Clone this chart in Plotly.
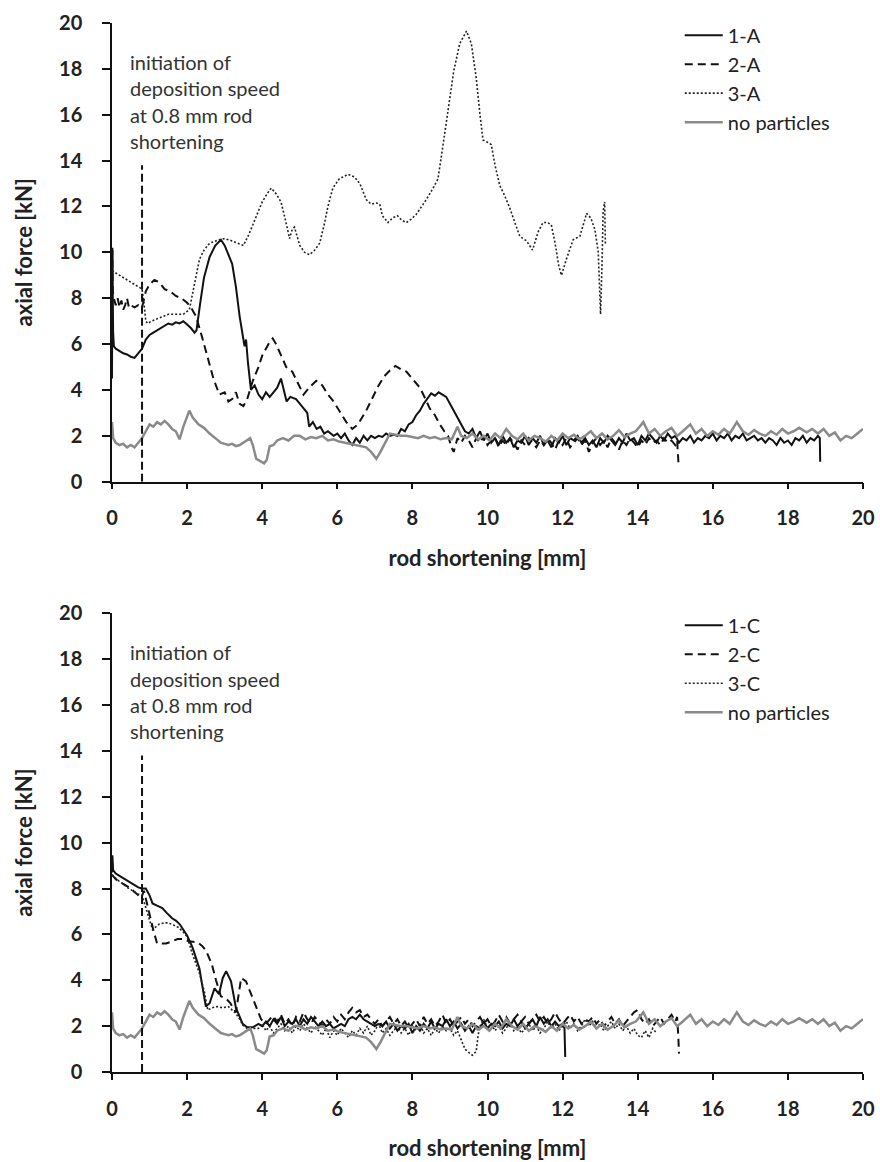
import plotly.graph_objects as go

# ---------------- data ----------------
no_particles = [
    (0, 2.6), (0.03, 1.9), (0.1, 1.7), (0.2, 1.6), (0.3, 1.65), (0.4, 1.5), (0.5, 1.6), (0.6, 1.5), (0.7, 1.7),
    (0.8, 1.9), (0.9, 2.2), (1.0, 2.5), (1.1, 2.4), (1.2, 2.6), (1.3, 2.5), (1.4, 2.65), (1.5, 2.5), (1.6, 2.3),
    (1.7, 2.2), (1.8, 1.85), (1.9, 2.4), (2.0, 2.8), (2.06, 3.1), (2.15, 2.8), (2.3, 2.5), (2.45, 2.35), (2.6, 2.1),
    (2.75, 1.9), (2.9, 1.7), (3.0, 1.65), (3.1, 1.6), (3.2, 1.65), (3.3, 1.55), (3.4, 1.6), (3.5, 1.7), (3.6, 1.8),
    (3.68, 1.9), (3.75, 1.6), (3.84, 1.0), (3.95, 0.9), (4.05, 0.8), (4.12, 0.95), (4.2, 1.55), (4.3, 1.6),
    (4.4, 1.8), (4.55, 1.9), (4.7, 1.8), (4.85, 2.0), (5.0, 2.0), (5.15, 1.85), (5.3, 1.95), (5.44, 1.9),
    (5.6, 2.0), (5.75, 1.8), (5.9, 1.85), (6.05, 1.75), (6.2, 1.7), (6.4, 1.6), (6.6, 1.55), (6.77, 1.5),
    (6.9, 1.3), (7.04, 1.0), (7.15, 1.3), (7.3, 1.8), (7.4, 2.1), (7.55, 2.05), (7.7, 2.0), (7.84, 2.0),
    (8.0, 1.95), (8.15, 1.9), (8.3, 2.0), (8.46, 1.9), (8.6, 1.95), (8.75, 1.85), (8.9, 1.9), (9.05, 1.85),
    (9.2, 2.4), (9.3, 2.0), (9.45, 1.9), (9.6, 2.1), (9.75, 1.85), (9.9, 2.0), (10.05, 1.8), (10.2, 2.1),
    (10.35, 1.9), (10.5, 2.3), (10.65, 2.0), (10.8, 1.85), (10.95, 2.1), (11.1, 1.8), (11.25, 2.0), (11.4, 1.9),
    (11.55, 1.75), (11.7, 2.0), (11.85, 1.8), (12.0, 2.1), (12.15, 1.9), (12.3, 2.05), (12.45, 1.85), (12.6, 2.0),
    (12.75, 2.2), (12.9, 1.9), (13.05, 2.1), (13.2, 1.85), (13.35, 2.0), (13.5, 2.25), (13.65, 1.95), (13.8, 2.1),
    (13.95, 2.2), (14.15, 2.6), (14.3, 2.1), (14.45, 2.3), (14.6, 2.0), (14.75, 2.2), (14.9, 2.35), (15.05, 2.0),
    (15.2, 2.2), (15.4, 2.5), (15.55, 2.1), (15.7, 2.3), (15.85, 2.0), (16.0, 2.2), (16.15, 2.05), (16.3, 2.3),
    (16.45, 2.1), (16.64, 2.6), (16.8, 2.2), (16.95, 2.05), (17.1, 2.25), (17.25, 2.1), (17.4, 2.0), (17.55, 2.2),
    (17.7, 2.05), (17.85, 2.3), (18.0, 2.1), (18.15, 2.2), (18.3, 2.35), (18.5, 2.15), (18.65, 2.3), (18.8, 2.1),
    (18.95, 2.3), (19.1, 2.0), (19.25, 2.15), (19.4, 1.8), (19.55, 2.0), (19.7, 1.9), (19.85, 2.1), (20.0, 2.3),
]

s1A = [
    (0, 4.5), (0.01, 10.1), (0.03, 6.5), (0.05, 5.9), (0.1, 5.8), (0.2, 5.7), (0.3, 5.6), (0.4, 5.55), (0.5, 5.45),
    (0.6, 5.4), (0.7, 5.6), (0.8, 5.8), (0.9, 6.2), (1.0, 6.4), (1.1, 6.5), (1.2, 6.6), (1.3, 6.7), (1.4, 6.8),
    (1.5, 6.9), (1.6, 6.85), (1.7, 6.95), (1.8, 6.9), (1.9, 7.0), (2.0, 6.85), (2.1, 6.7), (2.2, 6.5), (2.25, 6.6),
    (2.35, 7.8), (2.45, 8.9), (2.6, 9.8), (2.75, 10.3), (2.9, 10.55), (3.0, 10.3), (3.1, 9.9), (3.2, 9.5),
    (3.3, 8.5), (3.4, 7.2), (3.49, 6.3), (3.53, 5.9), (3.57, 6.2), (3.62, 5.2), (3.7, 4.0), (3.8, 4.2), (3.9, 3.8),
    (4.0, 3.6), (4.1, 3.9), (4.2, 3.7), (4.3, 3.9), (4.4, 4.1), (4.5, 4.5), (4.58, 4.0), (4.65, 3.5), (4.75, 3.7),
    (4.9, 3.6), (5.0, 3.4), (5.1, 3.2), (5.2, 3.0), (5.25, 2.4), (5.35, 2.6), (5.45, 2.3), (5.55, 2.4), (5.65, 2.1),
    (5.75, 2.2), (5.9, 2.0), (6.0, 2.1), (6.1, 1.9), (6.2, 2.1), (6.3, 1.8), (6.4, 1.6), (6.5, 1.9), (6.6, 1.7),
    (6.7, 2.0), (6.8, 1.8), (6.9, 2.0), (7.0, 1.9), (7.1, 2.0), (7.2, 1.95), (7.3, 2.1), (7.4, 2.0), (7.5, 2.05),
    (7.6, 2.0), (7.7, 2.3), (7.8, 2.2), (7.9, 2.5), (8.0, 2.6), (8.1, 2.9), (8.2, 3.1), (8.3, 3.4), (8.4, 3.6),
    (8.5, 3.85), (8.6, 3.75), (8.7, 3.9), (8.8, 3.8), (8.9, 3.7), (9.0, 3.4), (9.1, 3.1), (9.2, 2.8), (9.3, 2.5),
    (9.4, 2.2), (9.5, 2.1), (9.6, 2.3), (9.7, 1.9), (9.8, 2.2), (9.9, 1.8), (10.0, 2.1), (10.1, 1.7), (10.2, 1.9),
    (10.3, 1.6), (10.4, 2.0), (10.5, 1.7), (10.6, 1.9), (10.7, 1.5), (10.8, 1.8), (10.9, 1.7), (11.0, 2.0),
    (11.1, 1.6), (11.2, 1.9), (11.3, 1.7), (11.4, 2.0), (11.5, 1.6), (11.6, 1.8), (11.7, 1.5), (11.8, 1.9),
    (11.9, 1.7), (12.0, 2.0), (12.1, 1.6), (12.2, 1.9), (12.3, 1.8), (12.4, 2.0), (12.5, 1.7), (12.6, 1.9),
    (12.7, 1.6), (12.8, 1.8), (12.9, 1.5), (13.0, 1.9), (13.1, 1.7), (13.2, 2.0), (13.3, 1.8), (13.4, 1.6),
    (13.5, 1.9), (13.6, 1.7), (13.7, 2.1), (13.8, 1.8), (13.9, 1.9), (14.0, 1.6), (14.1, 2.0), (14.2, 1.8),
    (14.3, 2.1), (14.4, 1.9), (14.5, 1.7), (14.6, 2.0), (14.7, 1.8), (14.8, 2.1), (14.9, 1.9), (15.0, 2.0),
    (15.1, 1.7), (15.2, 1.9), (15.3, 1.8), (15.4, 2.0), (15.5, 1.7), (15.6, 1.9), (15.7, 1.8), (15.8, 2.0),
    (15.9, 1.9), (16.0, 2.1), (16.1, 1.8), (16.2, 2.0), (16.3, 1.9), (16.4, 2.1), (16.5, 1.8), (16.6, 2.0),
    (16.7, 1.9), (16.8, 2.1), (16.9, 1.8), (17.0, 1.9), (17.1, 2.0), (17.2, 1.8), (17.3, 1.9), (17.4, 1.7),
    (17.5, 1.9), (17.6, 1.8), (17.7, 1.6), (17.8, 1.9), (17.9, 1.7), (18.0, 1.8), (18.1, 1.6), (18.2, 1.9),
    (18.3, 1.8), (18.4, 2.0), (18.5, 1.7), (18.6, 1.9), (18.7, 1.8), (18.8, 2.0), (18.85, 1.9), (18.86, 0.87),
]

s2A = [
    (0, 7.9), (0.01, 10.2), (0.02, 8.3), (0.05, 8.0), (0.1, 7.7), (0.15, 8.0), (0.2, 7.6), (0.25, 7.9), (0.3, 7.5),
    (0.35, 7.7), (0.4, 8.0), (0.45, 7.6), (0.5, 7.7), (0.6, 7.6), (0.7, 7.7), (0.8, 7.6), (0.9, 8.3), (1.0, 8.6),
    (1.13, 8.8), (1.25, 8.7), (1.4, 8.4), (1.55, 8.3), (1.7, 8.1), (1.85, 8.0), (2.0, 7.8), (2.1, 7.6), (2.24, 7.2),
    (2.4, 6.3), (2.5, 5.7), (2.6, 5.1), (2.7, 4.5), (2.86, 3.8), (3.0, 3.9), (3.1, 3.5), (3.2, 3.6), (3.3, 3.9),
    (3.4, 3.4), (3.5, 3.3), (3.6, 3.6), (3.75, 4.4), (3.9, 5.0), (4.0, 5.5), (4.1, 5.8), (4.2, 6.1), (4.28, 6.25),
    (4.37, 6.0), (4.45, 5.7), (4.55, 5.3), (4.64, 5.0), (4.8, 4.8), (4.95, 4.3), (5.1, 3.8), (5.25, 4.1),
    (5.44, 4.4), (5.6, 4.2), (5.75, 3.8), (5.9, 3.5), (6.05, 3.1), (6.24, 2.6), (6.4, 2.3), (6.55, 2.5),
    (6.77, 3.1), (6.95, 3.7), (7.1, 4.2), (7.25, 4.6), (7.4, 4.85), (7.55, 5.05), (7.7, 4.9), (7.84, 4.8),
    (8.0, 4.5), (8.2, 4.1), (8.35, 3.6), (8.46, 3.2), (8.6, 2.9), (8.73, 2.5), (8.85, 2.2), (8.95, 2.0),
    (9.04, 1.5), (9.1, 1.3), (9.2, 1.9), (9.3, 1.7), (9.4, 2.0), (9.5, 1.8), (9.6, 1.5), (9.7, 1.9), (9.8, 1.7),
    (9.9, 2.0), (10.0, 1.6), (10.1, 1.8), (10.2, 1.9), (10.3, 1.5), (10.4, 1.8), (10.5, 1.6), (10.6, 1.9),
    (10.7, 1.7), (10.8, 1.4), (10.9, 1.8), (11.0, 1.6), (11.1, 1.9), (11.2, 1.7), (11.3, 1.5), (11.4, 1.8),
    (11.5, 1.6), (11.6, 1.9), (11.7, 1.7), (11.8, 1.4), (11.9, 1.8), (12.0, 1.6), (12.1, 1.9), (12.2, 1.5),
    (12.3, 1.7), (12.4, 1.9), (12.5, 1.6), (12.6, 1.8), (12.7, 1.3), (12.8, 1.7), (12.9, 1.9), (13.0, 1.6),
    (13.1, 1.8), (13.2, 1.5), (13.3, 1.9), (13.4, 1.7), (13.5, 1.4), (13.6, 1.8), (13.7, 1.6), (13.8, 1.9),
    (13.9, 1.7), (14.0, 1.5), (14.1, 1.8), (14.2, 1.6), (14.3, 1.9), (14.4, 1.7), (14.5, 1.8), (14.6, 1.6),
    (14.7, 1.9), (14.8, 1.7), (14.9, 1.8), (15.0, 1.6), (15.05, 1.8), (15.08, 1.1), (15.09, 0.7),
]

s3A = [
    (0, 9.4), (0.02, 9.2), (0.1, 9.1), (0.2, 9.0), (0.3, 8.9), (0.4, 8.8), (0.5, 8.7), (0.6, 8.6), (0.7, 8.5),
    (0.8, 8.4), (0.85, 7.8), (0.9, 7.0), (0.95, 6.9), (1.05, 7.0), (1.2, 7.1), (1.35, 7.2), (1.5, 7.3), (1.7, 7.3),
    (1.9, 7.3), (2.06, 7.5), (2.15, 8.2), (2.25, 9.1), (2.33, 9.7), (2.45, 10.1), (2.6, 10.4), (2.85, 10.55),
    (3.0, 10.6), (3.2, 10.5), (3.35, 10.4), (3.5, 10.3), (3.65, 10.8), (3.84, 11.6), (4.0, 12.2), (4.15, 12.6),
    (4.24, 12.8), (4.35, 12.6), (4.5, 12.2), (4.62, 11.4), (4.73, 10.6), (4.8, 11.0), (4.86, 11.1), (4.93, 10.7),
    (5.0, 10.3), (5.13, 10.0), (5.26, 9.9), (5.4, 10.1), (5.53, 10.4), (5.65, 11.2), (5.75, 12.0), (5.88, 12.8),
    (6.05, 13.2), (6.28, 13.4), (6.45, 13.3), (6.6, 13.0), (6.7, 12.6), (6.77, 12.3), (6.9, 12.1), (7.04, 12.15),
    (7.13, 12.1), (7.2, 11.6), (7.35, 11.3), (7.47, 11.5), (7.6, 11.6), (7.72, 11.4), (7.84, 11.3), (7.97, 11.45),
    (8.1, 11.65), (8.25, 12.0), (8.37, 12.3), (8.55, 12.8), (8.68, 13.2), (8.8, 14.5), (8.9, 15.7), (9.0, 16.8),
    (9.1, 17.9), (9.26, 19.1), (9.44, 19.65), (9.57, 19.1), (9.7, 17.6), (9.8, 16.0), (9.88, 14.9), (10.0, 14.8),
    (10.1, 14.7), (10.2, 13.8), (10.33, 12.9), (10.45, 12.5), (10.6, 11.9), (10.75, 11.2), (10.86, 10.7),
    (11.04, 10.5), (11.2, 10.1), (11.35, 10.9), (11.48, 11.3), (11.6, 11.3), (11.7, 11.2), (11.8, 10.4),
    (11.9, 9.4), (11.97, 9.0), (12.1, 9.7), (12.28, 10.55), (12.46, 10.7), (12.55, 11.2), (12.64, 11.7),
    (12.75, 11.5), (12.86, 11.0), (12.95, 10.0), (13.01, 7.3), (13.05, 9.5), (13.08, 11.8), (13.12, 12.2),
    (13.14, 10.3),
]

s1C = [
    (0, 8.7), (0.01, 9.45), (0.03, 8.8), (0.1, 8.65), (0.2, 8.55), (0.3, 8.45), (0.4, 8.35), (0.5, 8.25),
    (0.6, 8.15), (0.7, 8.05), (0.8, 8.0), (0.9, 8.0), (1.0, 7.7), (1.08, 7.35), (1.2, 7.25), (1.34, 7.15),
    (1.45, 6.95), (1.6, 6.7), (1.7, 6.6), (1.8, 6.45), (1.9, 6.2), (2.0, 5.95), (2.1, 5.6), (2.15, 5.4),
    (2.25, 4.9), (2.33, 4.5), (2.4, 3.8), (2.5, 2.85), (2.6, 3.0), (2.73, 3.65), (2.85, 3.4), (2.95, 4.1),
    (3.04, 4.4), (3.17, 3.95), (3.3, 2.8), (3.4, 2.4), (3.48, 2.1), (3.6, 1.95), (3.75, 1.95), (3.9, 2.1),
    (4.0, 2.0), (4.1, 2.2), (4.2, 2.0), (4.3, 2.3), (4.4, 2.1), (4.5, 2.4), (4.6, 2.0), (4.7, 2.2), (4.8, 2.1),
    (4.9, 2.3), (5.0, 2.0), (5.1, 2.3), (5.2, 2.1), (5.3, 2.4), (5.4, 2.2), (5.5, 2.0), (5.6, 2.2), (5.7, 2.0),
    (5.8, 2.1), (5.9, 1.9), (6.0, 2.0), (6.1, 2.1), (6.2, 2.0), (6.3, 2.3), (6.4, 2.4), (6.5, 2.3), (6.6, 2.5),
    (6.7, 2.3), (6.8, 2.2), (6.9, 2.1), (7.0, 2.0), (7.1, 2.1), (7.2, 2.0), (7.3, 2.2), (7.4, 1.9), (7.5, 2.1),
    (7.6, 1.8), (7.7, 2.0), (7.8, 1.9), (7.9, 2.1), (8.0, 1.7), (8.1, 2.0), (8.2, 1.8), (8.3, 2.1), (8.4, 1.9),
    (8.5, 2.2), (8.6, 1.9), (8.7, 2.1), (8.8, 2.0), (8.9, 2.3), (9.0, 2.0), (9.1, 2.2), (9.2, 1.9), (9.3, 2.1),
    (9.4, 1.8), (9.5, 2.0), (9.6, 1.7), (9.7, 2.0), (9.8, 1.9), (9.9, 2.2), (10.0, 1.9), (10.1, 2.1), (10.2, 2.0),
    (10.3, 2.2), (10.4, 1.9), (10.5, 2.1), (10.6, 2.0), (10.7, 2.3), (10.8, 2.0), (10.9, 2.2), (11.0, 1.9),
    (11.1, 2.1), (11.2, 2.3), (11.3, 2.0), (11.4, 2.4), (11.5, 2.1), (11.6, 2.3), (11.7, 2.0), (11.8, 2.2),
    (11.9, 2.0), (12.0, 2.1), (12.05, 1.9), (12.06, 1.4), (12.07, 0.65),
]

s2C = [
    (0, 8.6), (0.1, 8.4), (0.2, 8.3), (0.3, 8.2), (0.4, 8.1), (0.5, 8.0), (0.6, 7.85), (0.7, 7.7), (0.78, 7.6),
    (0.85, 7.9), (0.95, 7.2), (1.0, 6.9), (1.1, 6.2), (1.2, 5.6), (1.3, 5.6), (1.44, 5.6), (1.6, 5.7),
    (1.75, 5.8), (1.88, 5.8), (2.05, 5.7), (2.28, 5.65), (2.4, 5.5), (2.5, 5.3), (2.66, 4.7), (2.77, 4.0),
    (2.9, 3.3), (3.04, 3.2), (3.15, 3.0), (3.3, 2.6), (3.38, 3.4), (3.44, 4.1), (3.57, 3.95), (3.75, 3.2),
    (3.85, 2.8), (3.97, 2.3), (4.1, 2.1), (4.28, 2.45), (4.4, 2.2), (4.5, 2.5), (4.6, 2.1), (4.7, 2.3),
    (4.8, 2.0), (4.9, 2.4), (5.0, 2.2), (5.1, 2.6), (5.2, 2.3), (5.3, 2.1), (5.4, 2.4), (5.5, 2.2), (5.6, 2.0),
    (5.7, 2.3), (5.8, 2.1), (5.9, 2.4), (6.0, 2.2), (6.1, 2.5), (6.2, 2.3), (6.3, 2.6), (6.4, 2.8), (6.5, 2.6),
    (6.6, 2.7), (6.7, 2.4), (6.8, 2.5), (6.9, 2.3), (7.0, 2.1), (7.1, 2.3), (7.2, 2.0), (7.3, 2.2), (7.4, 2.4),
    (7.5, 2.1), (7.6, 2.3), (7.7, 2.0), (7.8, 2.2), (7.9, 1.9), (8.0, 2.1), (8.1, 2.3), (8.2, 2.0), (8.3, 2.4),
    (8.4, 2.1), (8.5, 2.3), (8.6, 2.0), (8.7, 2.2), (8.8, 2.5), (8.9, 2.1), (9.0, 2.3), (9.1, 2.0), (9.2, 2.2),
    (9.3, 2.4), (9.4, 2.1), (9.5, 2.3), (9.6, 2.0), (9.7, 2.2), (9.8, 2.4), (9.9, 2.1), (10.0, 2.3), (10.1, 2.0),
    (10.2, 2.2), (10.3, 2.5), (10.4, 2.2), (10.5, 2.4), (10.6, 2.1), (10.7, 2.3), (10.8, 2.5), (10.9, 2.2),
    (11.0, 2.4), (11.1, 2.1), (11.2, 2.3), (11.3, 2.5), (11.4, 2.2), (11.5, 2.4), (11.6, 2.1), (11.7, 2.3),
    (11.8, 2.6), (11.9, 2.3), (12.0, 2.1), (12.1, 2.3), (12.2, 2.5), (12.3, 2.2), (12.4, 2.4), (12.5, 2.1),
    (12.6, 2.3), (12.7, 2.2), (12.8, 2.4), (12.9, 2.1), (13.0, 2.3), (13.1, 2.0), (13.2, 2.2), (13.3, 2.4),
    (13.4, 2.1), (13.5, 2.3), (13.6, 2.0), (13.7, 2.2), (13.8, 2.4), (13.9, 2.6), (14.0, 2.7), (14.1, 2.3),
    (14.2, 2.1), (14.3, 2.3), (14.4, 2.0), (14.5, 2.2), (14.6, 2.4), (14.7, 2.1), (14.8, 2.3), (14.9, 2.5),
    (15.0, 2.2), (15.05, 2.4), (15.08, 1.6), (15.1, 0.8),
]

s3C = [
    (0, 8.6), (0.1, 8.45), (0.2, 8.3), (0.3, 8.2), (0.4, 8.05), (0.5, 7.95), (0.6, 7.85), (0.7, 7.75),
    (0.8, 7.7), (0.88, 7.3), (0.95, 6.9), (1.0, 6.6), (1.08, 6.2), (1.18, 6.35), (1.26, 6.45), (1.4, 6.5),
    (1.5, 6.5), (1.65, 6.4), (1.77, 6.3), (1.9, 6.1), (2.0, 5.9), (2.15, 5.1), (2.25, 4.6), (2.33, 4.3),
    (2.46, 3.5), (2.55, 2.7), (2.66, 2.8), (2.8, 2.85), (2.95, 2.8), (3.1, 2.85), (3.2, 2.7), (3.3, 2.55),
    (3.4, 2.3), (3.48, 2.05), (3.6, 1.9), (3.75, 1.9), (3.9, 1.9), (4.0, 2.1), (4.1, 1.8), (4.2, 2.0),
    (4.3, 1.7), (4.4, 1.9), (4.5, 2.1), (4.6, 1.8), (4.7, 2.0), (4.8, 1.7), (4.9, 2.0), (5.0, 1.8), (5.1, 2.1),
    (5.2, 1.9), (5.3, 1.7), (5.4, 2.0), (5.5, 1.8), (5.6, 1.6), (5.7, 1.9), (5.8, 1.5), (5.9, 1.8), (6.0, 1.6),
    (6.1, 1.9), (6.2, 1.7), (6.3, 1.5), (6.4, 1.8), (6.5, 1.6), (6.6, 1.9), (6.7, 1.7), (6.8, 2.0), (6.9, 1.6),
    (7.0, 1.8), (7.1, 2.1), (7.2, 1.7), (7.3, 1.9), (7.4, 1.6), (7.5, 1.8), (7.6, 2.0), (7.7, 1.7), (7.8, 1.9),
    (7.9, 1.6), (8.0, 2.0), (8.1, 1.8), (8.2, 2.1), (8.3, 1.7), (8.4, 1.9), (8.5, 1.6), (8.6, 1.9), (8.7, 1.7),
    (8.8, 2.0), (8.9, 1.8), (9.0, 1.9), (9.1, 1.6), (9.2, 1.8), (9.3, 1.4), (9.4, 1.0), (9.5, 0.85), (9.6, 0.73),
    (9.7, 0.9), (9.75, 1.6), (9.8, 2.0), (9.9, 2.3), (10.0, 1.9), (10.1, 2.1), (10.2, 1.8), (10.3, 2.0),
    (10.4, 1.7), (10.5, 1.9), (10.6, 2.2), (10.7, 1.8), (10.8, 2.0), (10.9, 1.7), (11.0, 1.9), (11.1, 2.1),
    (11.2, 1.8), (11.3, 2.0), (11.4, 1.7), (11.5, 1.9), (11.6, 2.2), (11.7, 1.9), (11.8, 2.1), (11.9, 1.8),
    (12.0, 2.0), (12.1, 2.2), (12.2, 1.9), (12.3, 2.1), (12.4, 1.8), (12.5, 2.0), (12.6, 2.3), (12.7, 2.0),
    (12.8, 2.2), (12.9, 1.9), (13.0, 2.1), (13.1, 1.8), (13.2, 2.0), (13.3, 2.2), (13.4, 1.9), (13.5, 2.1),
    (13.6, 1.8), (13.7, 2.0), (13.8, 1.7), (13.9, 1.9), (14.0, 1.6), (14.1, 1.5), (14.2, 1.8), (14.3, 1.5),
    (14.4, 1.9), (14.5, 1.7),
]

marker_x = 0.8          # initiation of deposition speed
marker_top = 13.8
note_lines = ["initiation of", "deposition speed", "at 0.8 mm rod", "shortening"]
note_y = [18.3, 17.15, 16.0, 14.87]
x_ticks = [0, 2, 4, 6, 8, 10, 12, 14, 16, 18, 20]
y_ticks = [0, 2, 4, 6, 8, 10, 12, 14, 16, 18, 20]

# ---------------- styling ----------------
FONT = "Lato"
BLACK = "#111111"
GRAY = "#8a8a8a"
styles = {
    "solid": dict(color=BLACK, width=2, dash="solid"),
    "dash": dict(color=BLACK, width=2, dash="8px,5px"),
    "dot": dict(color="#222222", width=1.6, dash="2px,2px"),
    "gray": dict(color=GRAY, width=2.5, dash="solid"),
}

fig = go.Figure()

def add(series, name, style, xa, ya, legend):
    xs = [p[0] for p in series]
    ys = [p[1] for p in series]
    fig.add_trace(go.Scatter(x=xs, y=ys, mode="lines", name=name, line=styles[style],
                             xaxis=xa, yaxis=ya, legend=legend))

add(s1A, "1-A", "solid", "x", "y", "legend")
add(s2A, "2-A", "dash", "x", "y", "legend")
add(s3A, "3-A", "dot", "x", "y", "legend")
add(no_particles, "no particles", "gray", "x", "y", "legend")

add(s1C, "1-C", "solid", "x2", "y2", "legend2")
add(s2C, "2-C", "dash", "x2", "y2", "legend2")
add(s3C, "3-C", "dot", "x2", "y2", "legend2")
add(no_particles, "no particles", "gray", "x2", "y2", "legend2")

# vertical markers and notes
for xr, yr in (("x", "y"), ("x2", "y2")):
    fig.add_shape(type="line", xref=xr, yref=yr, x0=marker_x, x1=marker_x, y0=0, y1=marker_top,
                  line=dict(color=BLACK, width=2, dash="8px,4px"))
    for txt, yy in zip(note_lines, note_y):
        fig.add_annotation(xref=xr, yref=yr, x=0.42, y=yy, text=txt, showarrow=False,
                           xanchor="left", yanchor="middle",
                           font=dict(family=FONT, size=20, color="#333333"))

tickfont = dict(family=FONT, size=20, color="#222222", weight="bold")
titlefont = dict(family=FONT, size=22, color="#222222", weight="bold")

def xaxis(anchor):
    return dict(anchor=anchor, domain=[0, 1], range=[0, 20], tickvals=x_ticks, showgrid=False,
                zeroline=False, showline=True, linecolor=BLACK, linewidth=1.5, ticks="outside",
                ticklen=6, tickwidth=1.5, tickcolor=BLACK, tickfont=tickfont, ticklabelstandoff=12,
                automargin=False,
                title=dict(text="rod shortening [mm]", font=titlefont, standoff=22))

def yaxis(anchor, domain):
    return dict(anchor=anchor, domain=domain, range=[0, 20], tickvals=y_ticks, showgrid=False,
                zeroline=False, showline=True, linecolor=BLACK, linewidth=1.5, ticks="outside",
                ticklen=8, tickwidth=1.5, tickcolor=BLACK, tickfont=tickfont, ticklabelstandoff=16,
                automargin=False,
                title=dict(text="axial force [kN]", font=titlefont, standoff=20))

legend_style = dict(font=dict(family=FONT, size=20, color="#222222"), bgcolor="rgba(0,0,0,0)",
                    xanchor="left", yanchor="top", tracegroupgap=0, itemwidth=38)

fig.update_layout(
    width=880, height=1162,
    margin=dict(l=112, r=17, t=23, b=90, autoexpand=False),
    paper_bgcolor="white", plot_bgcolor="white",
    xaxis=xaxis("y"), yaxis=yaxis("x", [0.5627, 1.0]),
    xaxis2=xaxis("y2"), yaxis2=yaxis("x2", [0.0, 0.4373]),
    legend=dict(x=0.756, y=1.007, **legend_style),
    legend2=dict(x=0.756, y=0.4445, **legend_style),
    showlegend=True,
)

fig.write_html("out.html")
